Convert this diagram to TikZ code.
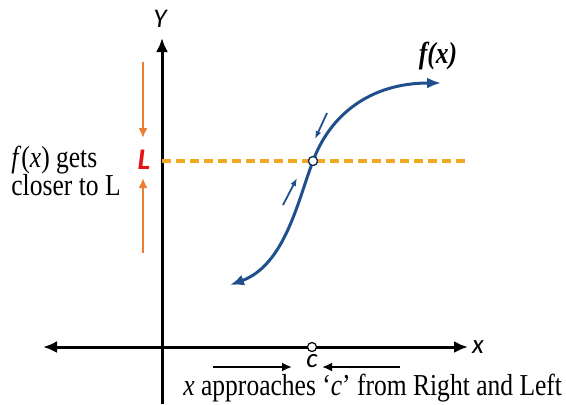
\documentclass[tikz,border=0pt]{standalone}
\usepackage{fontspec}
\setmainfont{Liberation Serif}[FakeStretch=0.84,
    ItalicFont={Liberation Serif Italic},
    BoldFont={Liberation Serif Bold},
    BoldItalicFont={Liberation Serif Bold Italic}]
\newfontfamily\axisfont{Carlito}
\usetikzlibrary{arrows.meta}
\definecolor{curveblue}{RGB}{32,80,140}
\definecolor{limitorange}{RGB}{242,168,36}
\definecolor{arroworange}{RGB}{237,125,49}
\definecolor{limitred}{RGB}{230,20,20}
\begin{document}
\begin{tikzpicture}[x=0.5pt, y=-0.5pt,
    axis/.style={black, line width=1.5pt, -{Latex[length=7pt,width=6pt]}},
    pointer/.style={black, line width=1pt, -{Latex[length=5pt,width=4.5pt]}},
    squeeze/.style={arroworange, line width=1pt, -{Latex[length=5pt,width=4.5pt]}},
    hint/.style={curveblue, line width=0.9pt, -{Latex[length=4pt,width=3pt]}},
    hole/.style={circle, draw=black, fill=white, line width=0.6pt, inner sep=0pt, minimum size=4.5pt},
    axislabel/.style={font=\axisfont\itshape\fontsize{13.5}{15}\selectfont},
    words/.style={font=\fontsize{15.2}{14}\selectfont}]
    \useasboundingbox (0,0) rectangle (566,404);

    % Define coordinates
    \coordinate (ybot) at (162,404);
    \coordinate (ytop) at (162,38);
    \coordinate (orig) at (162,347);
    \coordinate (xleft) at (43,347);
    \coordinate (xright) at (468,347);
    \coordinate (lstart) at (162,161);
    \coordinate (lend) at (466,161);

    % Draw axes
    \draw[axis] (ybot) -- (ytop);
    \draw[axis] (orig) -- (xleft);
    \draw[axis] (orig) -- (xright);
    \node[axislabel] (ylab) at (160,19) {Y};
    \node[axislabel] (xlab) at (478,347) {x};

    % Draw limit line
    \draw[limitorange, line width=2pt, dash pattern=on 4.5pt off 2.5pt] (lstart) -- (lend);
    \node[limitred, font=\axisfont\bfseries\itshape\fontsize{15}{17}\selectfont] (lval) at (144,160) {L};

    % Draw f(x) approaching L
    \coordinate (lo) at (230,285);
    \coordinate (hi) at (441,83);
    \node[hole, draw=curveblue!60!black] (gap) at (313,161) {};
    \draw[curveblue, line width=1.5pt, {Latex[length=7pt,width=5.5pt]}-{Latex[length=7pt,width=5.5pt]}]
        (lo) .. controls (285,265) and (298,200) .. (gap.center)
        .. controls (330,115) and (370,83) .. (hi);
    \node[hole, draw=curveblue!60!black] at (gap) {};
    \node[font=\bfseries\itshape\fontsize{15.2}{15}\selectfont] (flab) at (438,56) {f(x)};
    \draw[hint] (327,113) -- (315,139);
    \draw[hint] (283,205) -- (297,178);

    % Draw orange arrows
    \coordinate (dtop) at (143,62);
    \coordinate (dbot) at (143,138);
    \coordinate (utop) at (143,178);
    \coordinate (ubot) at (143,253);
    \draw[squeeze] (dtop) -- (dbot);
    \draw[squeeze] (ubot) -- (utop);
    \node[words, anchor=base west, align=left, inner sep=0pt] (ftext) at (11,195) {\textit{f}(\textit{x}) gets\\closer to L};

    % Draw c on x axis
    \node[hole] (cpt) at (312,347) {};
    \node[axislabel] (clab) at (312,361) {c};
    \coordinate (rl) at (213,367);
    \coordinate (rr) at (292,367);
    \coordinate (ll) at (322,367);
    \coordinate (lr) at (400,367);
    \draw[pointer] (rl) -- (rr);
    \draw[pointer] (lr) -- (ll);
    \node[words, anchor=base west, inner sep=0pt] (xtext) at (183,395) {\textit{x} approaches `\textit{c}' from Right and Left};
\end{tikzpicture}
\end{document}
